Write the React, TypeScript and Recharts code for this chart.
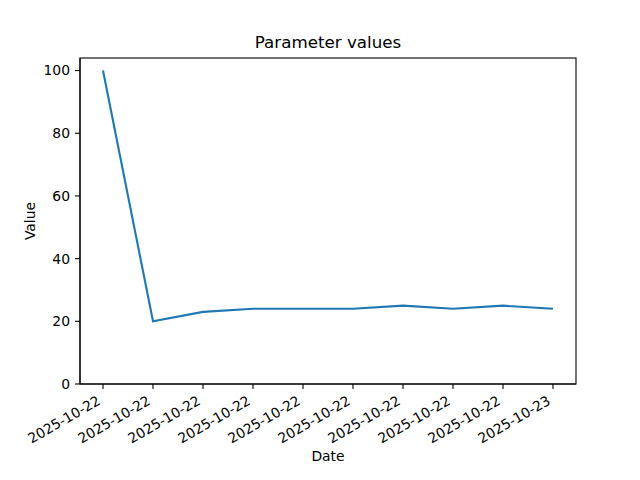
import { LineChart, Line, XAxis, YAxis } from 'recharts'

const dates = [
  '2025-10-22', '2025-10-22', '2025-10-22', '2025-10-22', '2025-10-22',
  '2025-10-22', '2025-10-22', '2025-10-22', '2025-10-22', '2025-10-23',
]
const values = [100, 20, 23, 24, 24, 24, 25, 24, 25, 24]
const yTicks = [0, 20, 40, 60, 80, 100]

const data = values.map((v, i) => ({ i, value: v }))
const xTicks = data.map((d) => d.i)

const font = '"DejaVu Sans", sans-serif'

function DateTick({ x, y, payload }: any) {
  const ox = x - 1.5
  const oy = y + 9.5
  return (
    <text
      x={ox}
      y={oy}
      transform={`rotate(-30, ${ox}, ${oy})`}
      textAnchor="end"
      fontSize={13.9}
      fontFamily={font}
      fill="#000"
    >
      {dates[payload.value]}
    </text>
  )
}

export default function App() {
  return (
    <div style={{ position: 'absolute', left: 0, top: 0, width: 640, height: 480, background: '#fff', fontFamily: font }}>
      <div style={{ position: 'absolute', left: 80, width: 496, top: 32, textAlign: 'center', fontSize: 16.7, lineHeight: '20px' }}>
        Parameter values
      </div>
      <div style={{ position: 'absolute', left: 80, width: 496, top: 448, textAlign: 'center', fontSize: 13.9, lineHeight: '17px' }}>
        Date
      </div>
      <div
        style={{
          position: 'absolute', left: 30, top: 221, fontSize: 13.9, lineHeight: '17px',
          transform: 'translate(-50%, -50%) rotate(-90deg)', whiteSpace: 'nowrap',
        }}
      >
        Value
      </div>
      <LineChart width={640} height={480} data={data} margin={{ top: 58, right: 64, bottom: 66, left: 20 }}>
        <XAxis
          dataKey="i"
          type="number"
          domain={[-0.46, 9.46]}
          ticks={xTicks}
          height={30}
          tickSize={5}
          tickMargin={5}
          interval={0}
          allowDataOverflow
          tick={<DateTick />}
          stroke="#000"
          strokeWidth={1.1}
        />
        <YAxis
          domain={[0, 104]}
          ticks={yTicks}
          width={60}
          tickSize={5}
          tickMargin={5}
          allowDataOverflow
          stroke="#000"
          strokeWidth={1.1}
          tick={{ fill: '#000', fontSize: 13.9, fontFamily: font }}
        />
        <Line
          dataKey="value"
          stroke="#1f77b4"
          strokeWidth={2.1}
          dot={false}
          isAnimationActive={false}
        />
      </LineChart>
      <svg width={640} height={480} style={{ position: 'absolute', left: 0, top: 0, pointerEvents: 'none' }}>
        <rect x={80} y={58} width={496} height={326} fill="none" stroke="#000" strokeWidth={1.1} />
      </svg>
    </div>
  )
}
